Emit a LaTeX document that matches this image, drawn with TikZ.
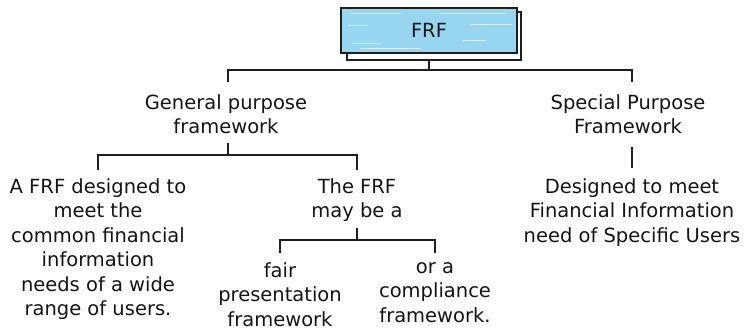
\documentclass[tikz,border=0pt]{standalone}
\usepackage{fontspec}
\setmainfont{DejaVu Sans}
\definecolor{boxblue}{RGB}{150,214,240}
\begin{document}
\begin{tikzpicture}[x=1pt,y=-1pt,
  lbl/.style={align=center, font=\fontsize{19.5}{24.5}\selectfont, inner sep=0pt, text=black!92},
  link/.style={draw=black!88, line width=2pt},
  streak/.style={draw=white, line width=1pt, opacity=0.6, line cap=round}]
\useasboundingbox (0,0) rectangle (744,334);
% top box with its offset shadow
\draw[line width=1.8pt, draw=black!88, fill=white] (347,12) rectangle (521,60);
\node[draw=black!88, line width=2pt, fill=boxblue, minimum width=176pt, minimum height=45pt,
  inner sep=0pt, text=black!92, font=\fontsize{19.5}{20}\selectfont] (frf) at (429,30.5) {FRF};
% light brush streaks across the box fill
\draw[streak] (350,14) -- (400,14) (440,14) -- (505,14);
\draw[streak] (348,26) -- (368,26) (470,25) -- (512,25);
\draw[streak] (352,44) -- (380,44) (462,41) -- (486,41);
\draw[streak] (360,49) -- (420,49);
% branch level 1
\node[lbl, anchor=north] (gen) at (226,94) {General purpose\\framework};
\node[lbl, anchor=north] (spec) at (628,94) {Special Purpose\\Framework};
\coordinate (j1) at (429,70);
\draw[link] (frf.south |- 0,60) -- (j1);
\draw[link] (228,82) |- (j1) -| (632,82);
% general purpose children
\node[lbl, anchor=north] (ffd) at (98,178) {A FRF designed to\\meet the\\common financial\\information\\needs of a wide\\range of users.};
\node[lbl, anchor=north] (may) at (357,178) {The FRF\\may be a};
\coordinate (j2) at (228,155);
\draw[link] (228,143) -- (j2);
\draw[link] (98,170) |- (j2) -| (357,170);
% special purpose child
\node[lbl, anchor=north] (des) at (632,178) {Designed to meet\\Financial Information\\need of Specific Users};
\draw[link] (632,147) -- (632,168);
% may-be-a children
\node[lbl, anchor=north] (fair) at (280,262) {fair\\presentation\\framework};
\node[lbl, anchor=north] (comp) at (435,262) {or a\\compliance\\framework.};
\coordinate (j3) at (357,240);
\draw[link] (357,228) -- (j3);
\draw[link] (280,253) |- (j3) -| (435,253);
\end{tikzpicture}
\end{document}
